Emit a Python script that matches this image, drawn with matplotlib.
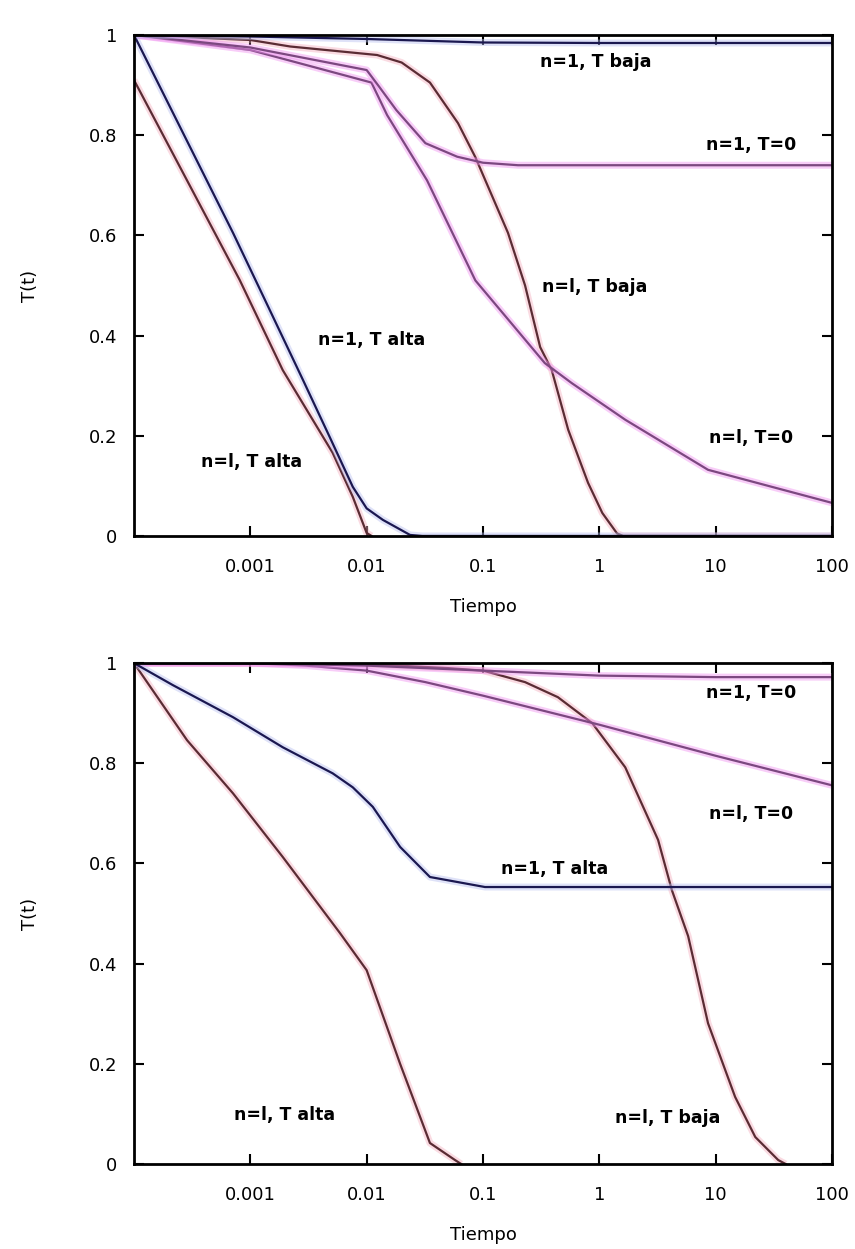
import numpy as np
import matplotlib.pyplot as plt

plt.rcParams.update({"font.family": "DejaVu Sans", "font.size": 13})

# ---- upper panel ----
up_n1_baja_t = [1e-4, 1e-3, 1e-2, 0.1, 1, 10, 100]
up_n1_baja_T = [1.0, 0.997, 0.992, 0.985, 0.984, 0.984, 0.984]

up_nl_baja_t = [1e-4, 1e-3, 0.0022, 0.0123, 0.02, 0.035, 0.061, 0.086, 0.164,
                0.23, 0.31, 0.39, 0.54, 0.80, 1.06, 1.42, 1.6, 100]
up_nl_baja_T = [1.0, 0.99, 0.977, 0.96, 0.945, 0.905, 0.824, 0.756, 0.605,
                0.50, 0.377, 0.331, 0.212, 0.106, 0.046, 0.005, 0.0, 0.0]

up_n1_T0_t = [1e-4, 1e-3, 1e-2, 0.0125, 0.018, 0.032, 0.06, 0.1, 0.2, 100]
up_n1_T0_T = [1.0, 0.975, 0.93, 0.90, 0.85, 0.784, 0.757, 0.745, 0.74, 0.74]

up_nl_T0_t = [1e-4, 1e-3, 0.011, 0.015, 0.033, 0.086, 0.12, 0.34, 0.58,
              1.67, 8.6, 100]
up_nl_T0_T = [1.0, 0.97, 0.905, 0.84, 0.71, 0.51, 0.47, 0.345, 0.305,
              0.232, 0.132, 0.066]

up_n1_alta_t = [1e-4, 0.00071, 0.0013, 0.00284, 0.0048, 0.0076, 0.01,
                0.0138, 0.0236, 0.03, 100]
up_n1_alta_T = [1.0, 0.605, 0.477, 0.311, 0.198, 0.098, 0.055,
                0.032, 0.002, 0.0, 0.0]

up_nl_alta_t = [1e-4, 0.00081, 0.0019, 0.0051, 0.0076, 0.01, 0.011]
up_nl_alta_T = [0.91, 0.511, 0.331, 0.166, 0.078, 0.006, 0.0]

# ---- lower panel ----
lo_n1_T0_t = [1e-4, 1e-3, 1e-2, 0.1, 1, 10, 100]
lo_n1_T0_T = [1.0, 1.0, 0.995, 0.985, 0.975, 0.972, 0.972]

lo_nl_T0_t = [1e-4, 1e-3, 0.003, 0.01, 0.032, 0.1, 1, 10, 100]
lo_nl_T0_T = [1.0, 1.0, 0.995, 0.985, 0.962, 0.935, 0.877, 0.815, 0.756]

lo_nl_baja_t = [1e-4, 0.01, 0.05, 0.1, 0.23, 0.44, 0.87, 1.67, 3.2, 4.2,
                5.8, 8.6, 14.7, 21.9, 34.5, 40]
lo_nl_baja_T = [1.0, 0.998, 0.99, 0.985, 0.962, 0.932, 0.88, 0.792, 0.647,
                0.547, 0.455, 0.281, 0.134, 0.054, 0.008, 0.0]

lo_n1_alta_t = [1e-4, 0.000216, 0.00071, 0.0019, 0.0051, 0.0076, 0.0113,
                0.0194, 0.035, 0.104, 100]
lo_n1_alta_T = [1.0, 0.956, 0.892, 0.832, 0.78, 0.752, 0.713,
                0.633, 0.573, 0.553, 0.553]

lo_nl_alta_t = [1e-4, 0.000286, 0.00071, 0.0019, 0.0059, 0.01, 0.0194,
                0.035, 0.0575, 0.065]
lo_nl_alta_T = [1.0, 0.846, 0.74, 0.613, 0.461, 0.387, 0.2,
                0.042, 0.008, 0.0]

xticks = [1e-3, 1e-2, 0.1, 1, 10, 100]
xticklabels = ["0.001", "0.01", "0.1", "1", "10", "100"]
yticks = [0, 0.2, 0.4, 0.6, 0.8, 1]
yticklabels = ["0", "0.2", "0.4", "0.6", "0.8", "1"]

navy = "#1b1850"
brown = "#5a2c34"
purple = "#7c4880"
halo = {navy: "#b8c0f0", brown: "#f4b0c0", purple: "#f090f0"}


def curve(ax, t, T, c):
    ax.plot(t, T, color=halo[c], lw=5, alpha=0.45, solid_capstyle="butt")
    ax.plot(t, T, color=c, lw=1.6)


def label(ax, x, y, s):
    ax.text(x, y, s, transform=ax.transAxes, ha="center", va="center",
            fontsize=12.5, fontweight="bold")


fig = plt.figure(figsize=(8.55, 12.49), dpi=100)
ax1 = fig.add_axes([0.1567, 0.5709, 0.8164, 0.4011])
ax2 = fig.add_axes([0.1567, 0.068, 0.8164, 0.4011])

curve(ax1, up_nl_alta_t, up_nl_alta_T, brown)
curve(ax1, up_nl_baja_t, up_nl_baja_T, brown)
curve(ax1, up_nl_T0_t, up_nl_T0_T, purple)
curve(ax1, up_n1_T0_t, up_n1_T0_T, purple)
curve(ax1, up_n1_alta_t, up_n1_alta_T, navy)
curve(ax1, up_n1_baja_t, up_n1_baja_T, navy)

label(ax1, 0.662, 0.946, "n=1, T baja")
label(ax1, 0.884, 0.780, "n=1, T=0")
label(ax1, 0.660, 0.497, "n=l, T baja")
label(ax1, 0.341, 0.391, "n=1, T alta")
label(ax1, 0.168, 0.148, "n=l, T alta")
label(ax1, 0.884, 0.196, "n=l, T=0")

curve(ax2, lo_nl_alta_t, lo_nl_alta_T, brown)
curve(ax2, lo_nl_baja_t, lo_nl_baja_T, brown)
curve(ax2, lo_nl_T0_t, lo_nl_T0_T, purple)
curve(ax2, lo_n1_T0_t, lo_n1_T0_T, purple)
curve(ax2, lo_n1_alta_t, lo_n1_alta_T, navy)

label(ax2, 0.884, 0.940, "n=1, T=0")
label(ax2, 0.884, 0.699, "n=l, T=0")
label(ax2, 0.603, 0.589, "n=1, T alta")
label(ax2, 0.216, 0.098, "n=l, T alta")
label(ax2, 0.765, 0.092, "n=l, T baja")

for ax in (ax1, ax2):
    ax.set_xscale("log")
    ax.set_xlim(1e-4, 100)
    ax.set_ylim(0, 1)
    ax.set_xticks(xticks)
    ax.set_xticklabels(xticklabels)
    ax.set_yticks(yticks)
    ax.set_yticklabels(yticklabels)
    ax.minorticks_off()
    ax.tick_params(direction="in", length=7, width=1.5, top=True, right=True)
    ax.tick_params(axis="x", pad=16)
    ax.tick_params(axis="y", pad=12)
    for sp in ax.spines.values():
        sp.set_linewidth(2)
    ax.set_xlabel("Tiempo")
    ax.set_ylabel("T(t)")
    ax.xaxis.set_label_coords(0.5, -0.124)
    ax.yaxis.set_label_coords(-0.136, 0.5)

fig.savefig("out.png", dpi=100)
